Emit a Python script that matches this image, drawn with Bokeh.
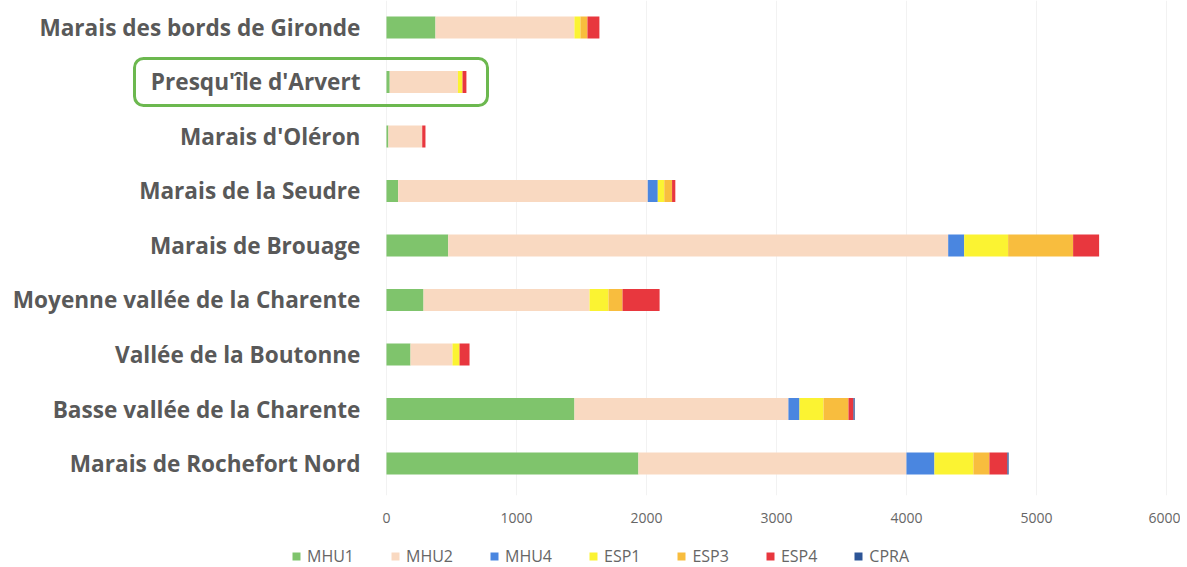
from bokeh.plotting import figure
from bokeh.layouts import column
from bokeh.models import (ColumnDataSource, Range1d, FixedTicker, Legend, LegendItem,
                          BoxAnnotation)
from bokeh.core.properties import value
from bokeh.embed import file_html
from bokeh.resources import INLINE

categories = ["Marais des bords de Gironde", "Presqu'île d'Arvert", "Marais d'Oléron",
              "Marais de la Seudre", "Marais de Brouage", "Moyenne vallée de la Charente",
              "Vallée de la Boutonne", "Basse vallée de la Charente", "Marais de Rochefort Nord"]
MHU1 = [377, 25, 15, 90, 475, 285, 185, 1446, 1938]
MHU2 = [1069, 525, 260, 1920, 3846, 1277, 323, 1646, 2062]
MHU4 = [0, 0, 0, 77, 123, 0, 0, 85, 215]
ESP1 = [46, 35, 0, 50, 338, 146, 54, 185, 300]
ESP3 = [54, 0, 0, 60, 500, 108, 0, 192, 123]
ESP4 = [92, 30, 25, 25, 200, 285, 77, 38, 138]
CPRA = [0, 0, 0, 0, 0, 0, 0, 10, 10]
series = ["MHU1", "MHU2", "MHU4", "ESP1", "ESP3", "ESP4", "CPRA"]
colors = ["#7fc46c", "#f9d9c1", "#4a86e0", "#fbf332", "#f8bd3e", "#e8373e", "#2d5597"]
ticks = [0, 1000, 2000, 3000, 4000, 5000, 6000]
highlight = "Presqu'île d'Arvert"

n = len(categories)
ypos = [n - 1 - i for i in range(n)]
src = ColumnDataSource(dict(y=ypos, cat=categories, MHU1=MHU1, MHU2=MHU2, MHU4=MHU4,
                            ESP1=ESP1, ESP3=ESP3, ESP4=ESP4, CPRA=CPRA,
                            lx=[-200] * n))

p = figure(frame_width=1180, frame_height=495, output_backend="svg", toolbar_location=None,
           x_range=Range1d(-2969, 6108), y_range=Range1d(-0.587, 8.495),
           y_axis_location=None, min_border_left=0, min_border_right=0,
           min_border_top=0, min_border_bottom=50)
p.outline_line_color = None
p.background_fill_color = "white"

rends = p.hbar_stack(series, y="y", height=0.404, color=colors, source=src, line_width=0)

p.text(x="lx", y="y", text="cat", source=src, text_align="right", text_baseline="middle",
       text_font=value("Open Sans"), text_font_size="22.6px", text_font_style="bold",
       text_color="#595959")

hi = categories.index(highlight)
box = BoxAnnotation(left=-1938, right=777, bottom=ypos[hi] - 0.431, top=ypos[hi] + 0.431,
                    fill_alpha=0, line_color="#6cb84f", line_alpha=1.0, line_width=3,
                    border_radius=9)
p.add_layout(box)

p.xaxis.ticker = FixedTicker(ticks=ticks)
p.xaxis.axis_line_color = None
p.xaxis.major_tick_line_color = None
p.xaxis.minor_tick_line_color = None
p.xaxis.major_label_text_font = "Open Sans"
p.xaxis.major_label_text_font_size = "14px"
p.xaxis.major_label_text_color = "#666666"
p.xaxis.major_label_standoff = 11
p.xgrid.ticker = FixedTicker(ticks=ticks)
p.xgrid.grid_line_color = "#f2f2f2"
p.ygrid.grid_line_color = None

# legend strip (swatch renderers sit outside the visible range)
q = figure(frame_width=1180, frame_height=22, output_backend="svg", toolbar_location=None,
           x_axis_location=None, y_axis_location=None, min_border_left=0,
           min_border_right=0, min_border_top=0, min_border_bottom=0,
           x_range=Range1d(0, 1), y_range=Range1d(0, 1))
q.outline_line_color = None
q.xgrid.grid_line_color = None
q.ygrid.grid_line_color = None
items = []
for s, c in zip(series, colors):
    r = q.hbar(y=[-10], right=[1], height=0.5, color=c, line_width=0)
    items.append(LegendItem(label=s, renderers=[r]))
legend = Legend(items=items, orientation="horizontal", location=(291, 0),
                glyph_width=10, glyph_height=10, label_standoff=6, spacing=36,
                label_text_font="Open Sans", label_text_font_size="16px",
                label_text_color="#666666", border_line_color=None,
                background_fill_alpha=0, padding=0, margin=0)
q.add_layout(legend)

layout = column(p, q, spacing=0)
open("out.html", "w").write(file_html(layout, INLINE))
